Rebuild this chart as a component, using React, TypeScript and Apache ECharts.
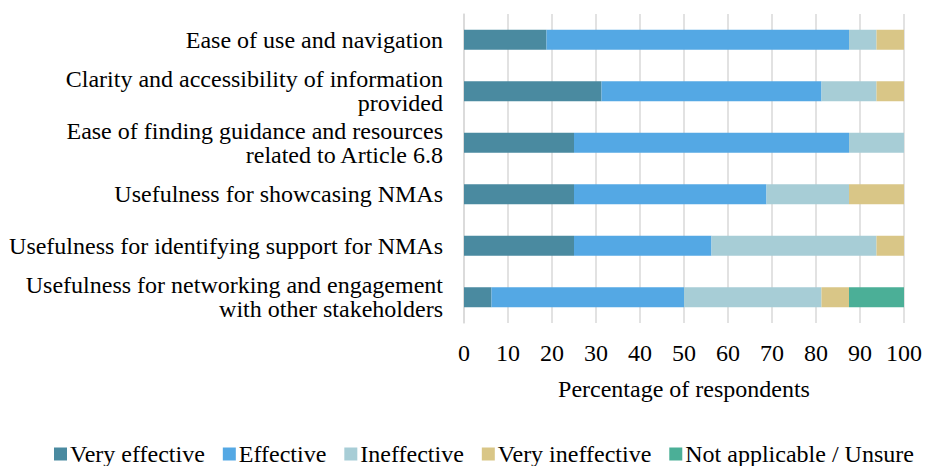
import React, { useEffect, useRef } from "react";
import * as echarts from "echarts";

const categories = [
  "Ease of use and navigation",
  "Clarity and accessibility of information\nprovided",
  "Ease of finding guidance and resources\nrelated to Article 6.8",
  "Usefulness for showcasing NMAs",
  "Usefulness for identifying support for NMAs",
  "Usefulness for networking and engagement\nwith other stakeholders",
];

const seriesNames = ["Very effective", "Effective", "Ineffective", "Very ineffective", "Not applicable / Unsure"];
const seriesColors = ["#4A8AA0", "#54A8E4", "#A7CDD6", "#D9C687", "#4BAF97"];

const veryEffective = [18.75, 31.25, 25, 25, 25, 6.25];
const effective = [68.75, 50, 62.5, 43.75, 31.25, 43.75];
const ineffective = [6.25, 12.5, 12.5, 18.75, 37.5, 31.25];
const veryIneffective = [6.25, 6.25, 0, 12.5, 6.25, 6.25];
const notApplicable = [0, 0, 0, 0, 0, 12.5];

const xTicks = [0, 10, 20, 30, 40, 50, 60, 70, 80, 90, 100];

const FONT = "'Liberation Serif', serif";

export default function App() {
  const ref = useRef<HTMLDivElement>(null);
  useEffect(() => {
    if (!ref.current) return;
    const chart = echarts.init(ref.current, undefined, { renderer: "svg" });
    const dataSets = [veryEffective, effective, ineffective, veryIneffective, notApplicable];
    chart.setOption({
      animation: false,
      textStyle: { fontFamily: FONT },
      grid: { left: 464, right: 20, top: 14, bottom: 143 },
      legend: {
        top: 437,
        left: 49,
        itemWidth: 13,
        itemHeight: 13,
        itemGap: 18,
        icon: "rect",
        textStyle: { fontFamily: FONT, fontSize: 24, color: "#000", padding: [0, 0, 0, -2] },
        data: seriesNames,
      },
      xAxis: {
        type: "value",
        min: xTicks[0],
        max: xTicks[xTicks.length - 1],
        interval: 10,
        name: "Percentage of respondents",
        nameLocation: "middle",
        nameGap: 54,
        nameTextStyle: { fontFamily: FONT, fontSize: 24, color: "#000" },
        axisLine: { show: false },
        axisTick: { show: false },
        axisLabel: { fontFamily: FONT, fontSize: 24, color: "#000", margin: 18 },
        splitLine: { show: true, lineStyle: { color: "#d9d9d9", width: 1.5 } },
      },
      yAxis: {
        type: "category",
        inverse: true,
        data: categories,
        axisLine: { show: true, lineStyle: { color: "#d9d9d9", width: 1.5 } },
        axisTick: { show: false },
        axisLabel: {
          fontFamily: FONT,
          fontSize: 24,
          color: "#000",
          margin: 21,
          lineHeight: 24,
          align: "right",
        },
      },
      series: dataSets.map((d, i) => ({
        name: seriesNames[i],
        type: "bar",
        stack: "total",
        barWidth: 20,
        data: d,
        itemStyle: { color: seriesColors[i] },
      })),
    });
    return () => chart.dispose();
  }, []);
  return (
    <div
      ref={ref}
      style={{ position: "fixed", left: 0, top: 0, width: 925, height: 466, background: "#fff" }}
    />
  );
}
